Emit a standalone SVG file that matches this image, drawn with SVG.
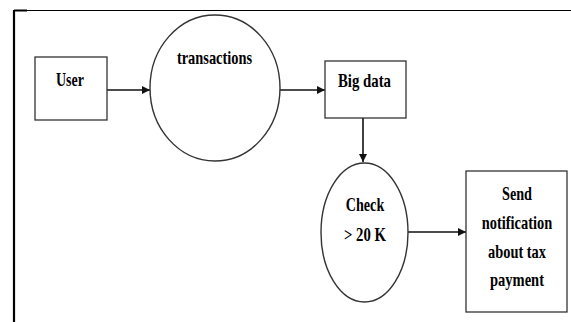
<svg xmlns="http://www.w3.org/2000/svg" width="571" height="322" viewBox="0 0 571 322">
<defs>
<style>
.box{fill:#fff;stroke:#333;stroke-width:1.3}
.proc{fill:#fff;stroke:#333;stroke-width:1.4}
.lbl{font-family:"Liberation Serif","Times New Roman",serif;font-weight:bold;font-size:19.5px;fill:#000;text-anchor:middle}
.conn{stroke:#111;stroke-width:1.6;fill:none}
.frame{stroke:#000;fill:none}
</style>
<marker id="ah" viewBox="0 0 10 10" refX="10" refY="5" markerWidth="8" markerHeight="8" markerUnits="userSpaceOnUse" orient="auto">
<path d="M0,0 L10,5 L0,10 z" fill="#111"/>
</marker>
</defs>
<rect width="571" height="322" fill="#fff"/>
<g id="frame">
<line class="frame" x1="14" y1="10.5" x2="571" y2="10.5" stroke-width="1.2"/>
<line class="frame" x1="14" y1="10.5" x2="27" y2="10.5" stroke-width="2"/>
<line class="frame" x1="14" y1="10" x2="14" y2="322" stroke-width="2.2"/>
</g>
<g id="connectors">
<line class="conn" x1="107" y1="90" x2="150" y2="90" marker-end="url(#ah)"/>
<line class="conn" x1="280" y1="90" x2="325" y2="90" marker-end="url(#ah)"/>
<line class="conn" x1="363" y1="118" x2="363" y2="162" marker-end="url(#ah)"/>
<line class="conn" x1="408" y1="232" x2="466" y2="232" marker-end="url(#ah)"/>
</g>
<g id="user">
<rect class="box" x="35" y="57" width="72" height="63"/>
<text class="lbl" x="70" y="86" textLength="28" lengthAdjust="spacingAndGlyphs">User</text>
</g>
<g id="transactions">
<ellipse class="proc" cx="215" cy="88" rx="65" ry="73"/>
<text class="lbl" x="214.5" y="64" textLength="75.2" lengthAdjust="spacingAndGlyphs">transactions</text>
</g>
<g id="bigdata">
<rect class="box" x="325" y="61" width="81" height="57"/>
<text class="lbl" x="364.5" y="87" textLength="53" lengthAdjust="spacingAndGlyphs">Big data</text>
</g>
<g id="check">
<ellipse class="proc" cx="364.5" cy="232.5" rx="43.5" ry="69.5"/>
<text class="lbl" x="365" y="210.5" textLength="38.5" lengthAdjust="spacingAndGlyphs">Check</text>
<text class="lbl" x="365" y="240.5" textLength="42" lengthAdjust="spacingAndGlyphs">&gt; 20 K</text>
</g>
<g id="notify">
<rect class="box" x="466" y="171" width="101" height="141"/>
<text class="lbl" x="517" y="199.5" textLength="30" lengthAdjust="spacingAndGlyphs">Send</text>
<text class="lbl" x="517" y="229" textLength="70.5" lengthAdjust="spacingAndGlyphs">notification</text>
<text class="lbl" x="517" y="258" textLength="58" lengthAdjust="spacingAndGlyphs">about tax</text>
<text class="lbl" x="517" y="286" textLength="54" lengthAdjust="spacingAndGlyphs">payment</text>
</g>
</svg>
